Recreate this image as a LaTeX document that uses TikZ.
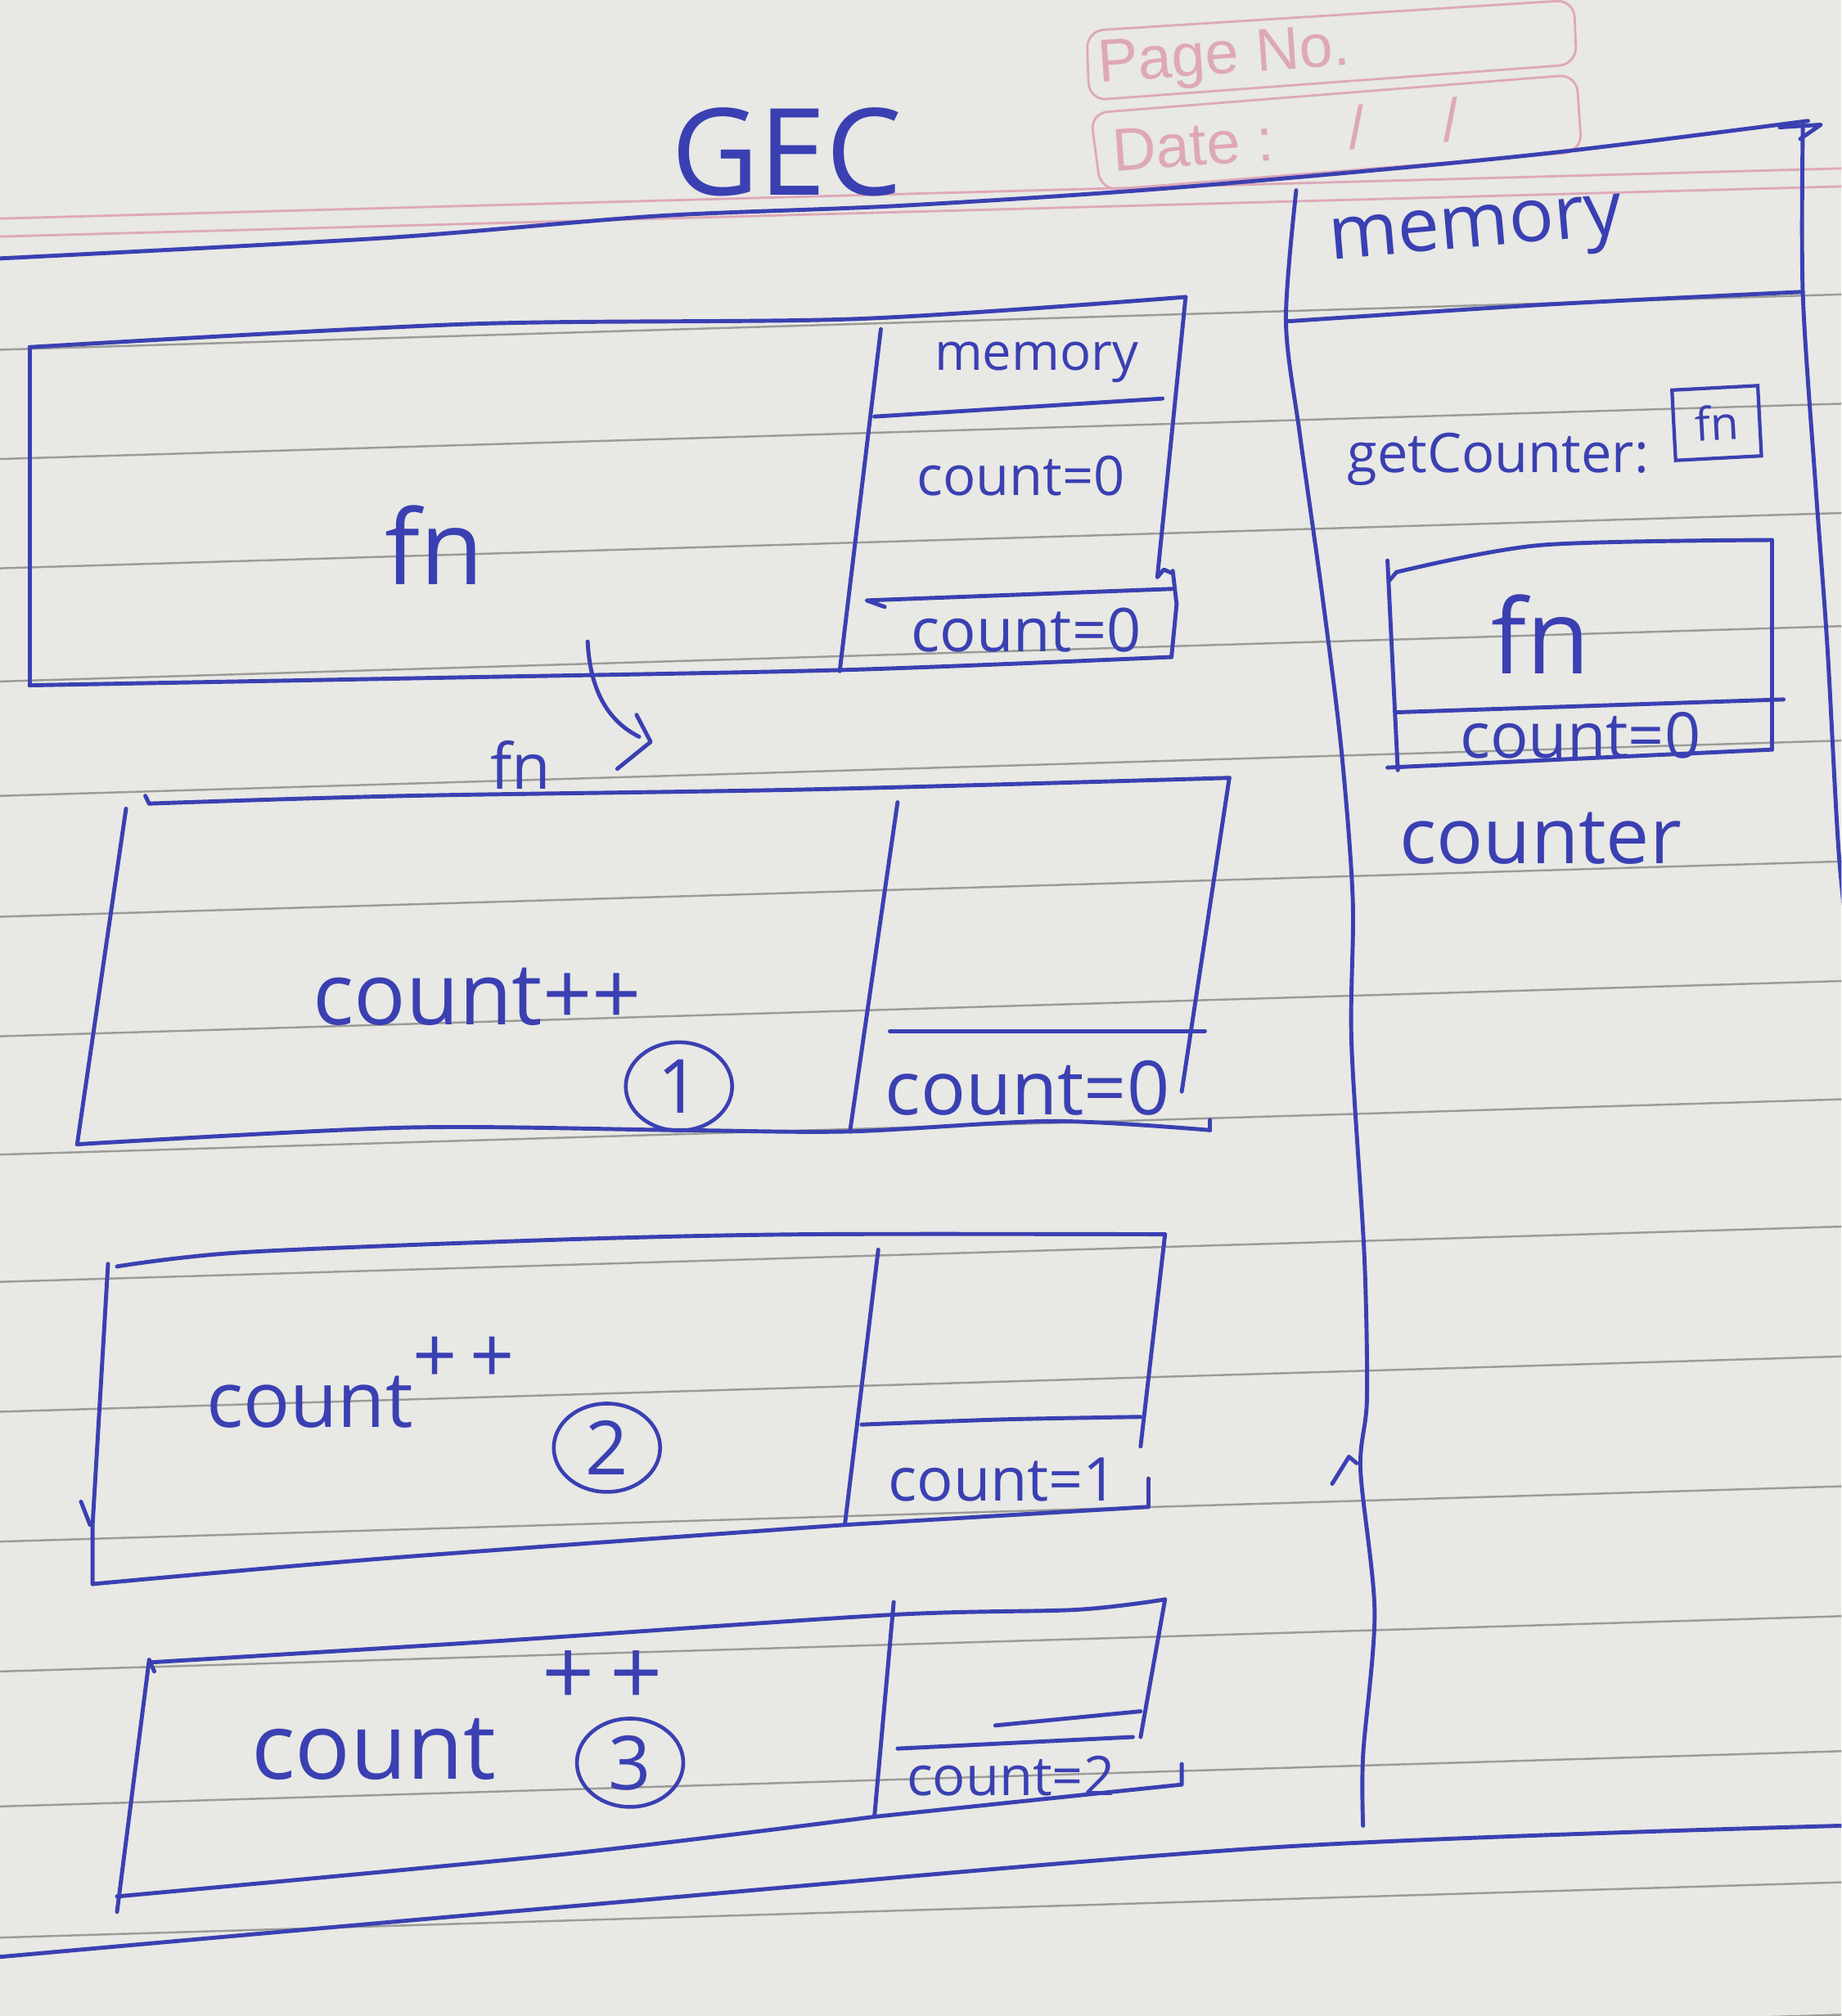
\documentclass[tikz,border=0pt]{standalone}
\usepackage{fontspec}
\setmainfont{Open Sans}
\newfontfamily\printfont{Liberation Sans}
\usetikzlibrary{shapes.geometric}
\definecolor{ink}{RGB}{58,64,178}
\definecolor{paper}{RGB}{232,232,228}
\definecolor{rulegray}{RGB}{155,155,152}
\definecolor{pinkprint}{RGB}{222,168,184}
\newcommand\penfont[1]{\fontsize{#1pt}{#1pt}\selectfont}
\tikzset{
  pen/.style={draw=ink, line width=1.4pt, line cap=round, line join=round},
  ruling/.style={draw=rulegray, line width=0.7pt},
  pinkline/.style={draw=pinkprint, line width=0.8pt},
  hand/.style={text=ink, inner sep=0pt},
  printed/.style={text=pinkprint, inner sep=0pt, font=\printfont\penfont{21}, rotate=4},
  ringed/.style={hand, ellipse, draw=ink, line width=1.3pt, minimum width=1.3cm, minimum height=1.08cm, font=\penfont{26}},
}
\begin{document}
\begin{tikzpicture}[x=0.015712cm, y=-0.015712cm]
\useasboundingbox (0,0) rectangle (1432,1568);
\clip (0,0) rectangle (1432,1568);
\fill[paper] (0,0) rectangle (1432,1568);

% notebook ruling
\foreach \yy in {272,357,442,530,619,713,806,898,997,1098,1199,1300,1405,1507,1610}
  \draw[ruling] (0,\yy) -- (1432,\yy-43);
\draw[pinkline] (0,170) -- (1432,131);
\draw[pinkline] (0,184) -- (1432,145);

% printed header fields
\draw[pinkline, rounded corners=6] (845,24) -- (1224,0) -- (1226,50) -- (847,78) -- cycle;
\draw[pinkline, rounded corners=6] (848,88) -- (1226,58) -- (1230,118) -- (856,148) -- cycle;
\node[printed] (pageno) at (952,46) {Page No.};
\node[printed] (datelbl) at (928,113) {Date :};
\node[printed] (slashA) at (1055,99) {/};
\node[printed] (slashB) at (1128,93) {/};

% title
\node[hand, font=\penfont{42}] (title) at (612,118) {GEC};

% global context frame
\draw[pen] plot[smooth] coordinates {(0,201) (300,185) (511,168) (700,160) (913,146) (1187,121) (1406,94)};
\draw[pen] (1384,99) -- (1416,97) -- (1400,108);
\draw[pen] plot[smooth] coordinates {(1402,97) (1402,229) (1412,379) (1421,502) (1430,664) (1440,760)};
\draw[pen] plot[smooth] coordinates {(0,1522) (440,1483) (987,1437) (1432,1420)};

% global memory column
\draw[pen] plot[smooth] coordinates {(1008,148) (1000,250) (1011,339) (1028,461) (1043,582) (1052,700) (1051,811) (1061,977) (1063,1088) (1058,1143) (1069,1254) (1060,1365) (1060,1420)};
\draw[pen] (1036,1154) -- (1049,1133) -- (1055,1138);
\draw[pen] plot[smooth] coordinates {(1000,250) (1200,237) (1402,227)};
\node[hand, font=\penfont{26}, rotate=5] (gmem) at (1148,183) {memory};
\node[hand, font=\penfont{19}] (getc) at (1165,357) {getCounter:};
\node[hand, draw=ink, line width=1.2pt, rotate=3, minimum width=1.05cm, minimum height=0.86cm, font=\penfont{16}] (gfn) at (1335,329) {fn};

% stored closure in global memory
\draw[pen] plot[smooth] coordinates {(1086,445) (1198,424) (1378,420)};
\draw[pen] (1080,452) -- (1086,445);
\draw[pen] (1079,436) -- (1087,599);
\draw[pen] (1378,420) -- (1378,583);
\draw[pen] (1086,554) -- (1387,544);
\draw[pen] (1079,597) -- (1378,583);
\node[hand, font=\penfont{36}] (cfn) at (1198,493) {fn};
\node[hand, font=\penfont{22}] (ccount) at (1229,572) {count=0};
\node[hand, font=\penfont{27}] (counter) at (1198,652) {counter};

% outer function context
\draw[pen] plot[smooth] coordinates {(23,270) (365,252) (667,248) (922,231)};
\draw[pen] (23,270) -- (23,533);
\draw[pen] plot[smooth] coordinates {(23,533) (350,527) (658,521) (911,511)};
\draw[pen] (685,256) -- (653,522);
\draw[pen] (680,324) -- (904,310);
\draw[pen] (922,231) -- (900,449) -- (905,443) -- (912,446);
\draw[pen] (688,472) -- (674,467) -- (912,458);
\draw[pen] (912,444) -- (915,470) -- (911,511);
\node[hand, font=\penfont{36}] (ofn) at (338,424) {fn};
\node[hand, font=\penfont{18}] (omem) at (806,282) {memory};
\node[hand, font=\penfont{19}] (ocountA) at (794,370) {count=0};
\node[hand, font=\penfont{21}] (ocountB) at (798,490) {count=0};

% call arrow
\coordinate (arrStart) at (457,499);
\coordinate (arrEnd) at (497,573);
\coordinate (arrTip) at (506,577);
\draw[pen] (arrStart) .. controls (459,540) and (475,562) .. (arrEnd);
\draw[pen] (495,556) -- (arrTip) -- (480,598);
\node[hand, font=\penfont{22}] (callfn) at (405,595) {fn};

% first call
\draw[pen] plot[smooth] coordinates {(116,625) (315,619) (629,614) (956,605)};
\draw[pen] (113,619) -- (116,625);
\draw[pen] (98,629) -- (60,890);
\draw[pen] plot[smooth] coordinates {(60,890) (315,877) (528,879) (661,880) (818,872) (941,879)};
\draw[pen] (941,879) -- (941,871);
\draw[pen] (698,624) -- (661,880);
\draw[pen] (956,605) -- (919,849);
\draw[pen] (692,802) -- (937,802);
\node[hand, font=\penfont{30}] (incA) at (371,775) {count++};
\node[ringed] (stepA) at (528,845) {1};
\node[hand, font=\penfont{26}] (countA) at (799,846) {count=0};

% second call
\draw[pen] plot[smooth] coordinates {(91,985) (189,974) (440,964) (629,960) (906,960)};
\draw[pen] (84,983) -- (72,1186) -- (72,1232);
\draw[pen] (63,1168) -- (70,1186);
\draw[pen] plot[smooth] coordinates {(72,1232) (300,1212) (657,1186)};
\draw[pen] (657,1186) -- (893,1172);
\draw[pen] (683,972) -- (657,1186);
\draw[pen] (906,960) -- (887,1125);
\draw[pen] plot[smooth] coordinates {(670,1108) (780,1104) (887,1102)};
\draw[pen] (893,1150) -- (893,1172);
\node[hand, font=\penfont{27}, anchor=base west] (incB) at (160,1110) {count\raisebox{0.57em}{+\,+}};
\node[ringed] (stepB) at (472,1126) {2};
\node[hand, font=\penfont{21}] (countB) at (780,1151) {count=1};

% third call
\draw[pen] plot[smooth] coordinates {(116,1293) (377,1277) (692,1256) (837,1252) (906,1244)};
\draw[pen] (120,1300) -- (116,1291);
\draw[pen] (116,1291) -- (91,1487);
\draw[pen] plot[smooth] coordinates {(91,1475) (440,1442) (680,1413)};
\draw[pen] (680,1413) -- (919,1388) -- (919,1372);
\draw[pen] (695,1246) -- (680,1413);
\draw[pen] (906,1244) -- (887,1351);
\draw[pen] (698,1360) -- (881,1351);
\draw[pen] (774,1342) -- (887,1331);
\node[hand, font=\penfont{32}, anchor=base west] (incC) at (195,1384) {count\hspace{0.5em}\raisebox{0.8em}{+\,+}};
\node[ringed] (stepC) at (490,1371) {3};
\node[hand, font=\penfont{19}] (countC) at (786,1381) {count=2};
\end{tikzpicture}
\end{document}
